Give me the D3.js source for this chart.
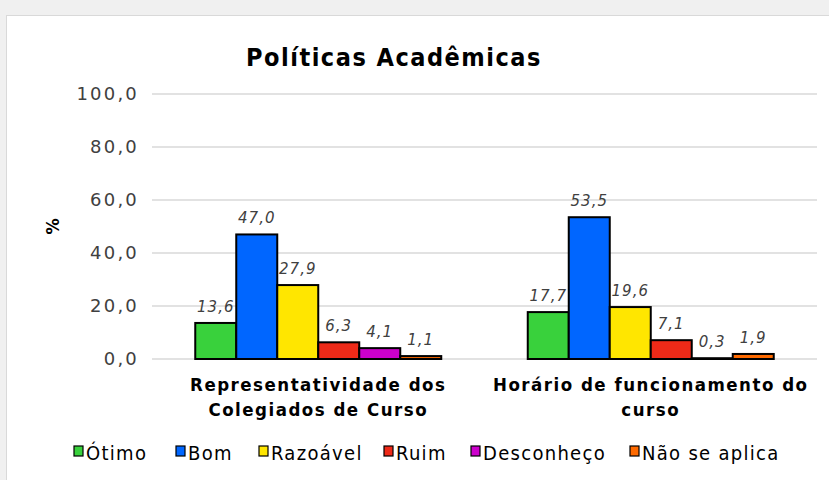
<!DOCTYPE html>
<html>
<head>
<meta charset="utf-8">
<script src="https://cdn.jsdelivr.net/npm/d3@7"></script>
<style>
  html, body { margin: 0; padding: 0; background: #f0f0f0; }
  svg { display: block; }
  text { font-family: "DejaVu Sans Condensed", "DejaVu Sans", sans-serif; }
</style>
</head>
<body>
<div id="chart"></div>
<script>
/* Políticas Acadêmicas — grouped bar chart */

const categories = [
  ["Representatividade dos", "Colegiados de Curso"],
  ["Horário de funcionamento do", "curso"],
];
const seriesNames  = ["Ótimo", "Bom", "Razoável", "Ruim", "Desconheço", "Não se aplica"];
const seriesColors = ["#39d13c", "#0066ff", "#ffe600", "#ee2a18", "#cc00cc", "#ff6a00"];
const valuesRep     = [13.6, 47.0, 27.9, 6.3, 4.1, 1.1];
const valuesHorario = [17.7, 53.5, 19.6, 7.1, 0.3, 1.9];
const yTicks = [0, 20, 40, 60, 80, 100];

const W = 829, H = 480;
const M = { left: 152, right: 12, top: 94, bottom: 121 };

const svg = d3.select("#chart").append("svg")
  .attr("width", W).attr("height", H);

// white panel
svg.append("rect")
  .attr("x", 6.5).attr("y", 15.5).attr("width", W).attr("height", H)
  .attr("fill", "#fff").attr("stroke", "#d9d9d9");

const x0 = d3.scaleBand().domain(d3.range(categories.length))
  .range([M.left, W - M.right]).paddingInner(0).paddingOuter(0);
const x1 = d3.scaleBand().domain(d3.range(seriesNames.length))
  .range([0, x0.bandwidth()]).paddingOuter(1.055);
const y = d3.scaleLinear().domain([0, 100]).range([H - M.bottom, M.top]);

// gridlines
svg.append("g").selectAll("line")
  .data(yTicks).join("line")
  .attr("x1", M.left).attr("x2", W - M.right)
  .attr("y1", d => y(d)).attr("y2", d => y(d))
  .attr("stroke", "#d9d9d9").attr("stroke-width", 1.5);

// y axis labels
const fmt = v => d3.format(".1f")(v).replace(".", ",");
svg.append("g").selectAll("text")
  .data(yTicks).join("text")
  .attr("x", 139).attr("y", d => y(d) + 6)
  .attr("text-anchor", "end")
  .style("font-family", "'DejaVu Sans', sans-serif")
  .attr("font-size", 18).attr("letter-spacing", 2.2).attr("fill", "#404040")
  .text(fmt);

svg.append("text")
  .attr("transform", `translate(59,${(y(40) + y(60)) / 2}) rotate(-90)`)
  .attr("text-anchor", "middle")
  .attr("font-size", 18).attr("font-weight", "bold").attr("fill", "#000")
  .text("%");

// bars
const allValues = [valuesRep, valuesHorario];
const groups = svg.append("g").selectAll("g")
  .data(allValues).join("g")
  .attr("transform", (d, i) => `translate(${x0(i)},0)`);

groups.selectAll("rect")
  .data(d => d).join("rect")
  .attr("x", (d, j) => x1(j))
  .attr("y", d => y(d))
  .attr("width", x1.bandwidth())
  .attr("height", d => y(0) - y(d))
  .attr("fill", (d, j) => seriesColors[j])
  .attr("stroke", "#000").attr("stroke-width", 2);

groups.selectAll("text")
  .data(d => d).join("text")
  .attr("x", (d, j) => x1(j) + x1.bandwidth() / 2)
  .attr("y", d => y(d) - 11)
  .attr("text-anchor", "middle")
  .style("font-family", "'DejaVu Sans', sans-serif")
  .attr("font-size", 15).attr("font-style", "italic").attr("letter-spacing", 1)
  .attr("fill", "#404040")
  .text(fmt);

// category labels
const catLabels = svg.append("g").selectAll("text")
  .data(categories).join("text")
  .attr("x", (d, i) => x0(i) + x0.bandwidth() / 2)
  .attr("y", 391)
  .attr("text-anchor", "middle")
  .attr("font-size", 18.5).attr("font-weight", "bold").attr("letter-spacing", 1.5)
  .attr("fill", "#000");
catLabels.selectAll("tspan")
  .data(d => d).join("tspan")
  .attr("x", function () { return this.parentNode.getAttribute("x"); })
  .attr("dy", (d, k) => k === 0 ? 0 : 25)
  .text(d => d);

// title
svg.append("text")
  .attr("x", 394).attr("y", 66)
  .attr("text-anchor", "middle")
  .attr("font-size", 25).attr("font-weight", "bold").attr("letter-spacing", 1.5)
  .attr("fill", "#000")
  .text("Políticas Acadêmicas");

// legend
const legendX = [74, 176, 259, 384, 471, 630];
const leg = svg.append("g").selectAll("g")
  .data(seriesNames).join("g")
  .attr("transform", (d, i) => `translate(${legendX[i]},446)`);
leg.append("rect")
  .attr("width", 9).attr("height", 10)
  .attr("fill", (d, i) => seriesColors[i])
  .attr("stroke", "#000").attr("stroke-width", 1.2);
leg.append("text")
  .attr("x", 12).attr("y", 14)
  .attr("font-size", 20).attr("letter-spacing", 1.3).attr("fill", "#000")
  .text(d => d);
</script>
</body>
</html>
